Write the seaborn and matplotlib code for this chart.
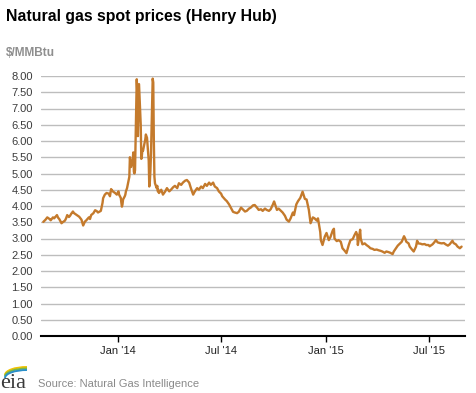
import numpy as np
import pandas as pd
import matplotlib
matplotlib.use("Agg")
import matplotlib.pyplot as plt
from matplotlib.patches import Arc
import seaborn as sns

# --- data: Henry Hub spot price, $/MMBtu ---
dates_2013 = ["2013-08-23", "2013-08-27", "2013-08-30", "2013-09-03", "2013-09-05",
              "2013-09-09", "2013-09-11", "2013-09-16", "2013-09-18", "2013-09-20",
              "2013-09-24", "2013-09-26", "2013-09-30", "2013-10-02", "2013-10-04",
              "2013-10-07", "2013-10-09", "2013-10-11", "2013-10-14", "2013-10-16",
              "2013-10-21", "2013-10-23", "2013-10-25", "2013-10-29", "2013-11-01",
              "2013-11-04", "2013-11-06", "2013-11-11", "2013-11-13", "2013-11-15",
              "2013-11-19", "2013-11-22", "2013-11-25", "2013-11-27", "2013-12-02",
              "2013-12-03", "2013-12-05", "2013-12-06", "2013-12-09", "2013-12-12",
              "2013-12-16", "2013-12-18", "2013-12-20", "2013-12-23", "2013-12-27",
              "2013-12-30"]
prices_2013 = [3.51, 3.58, 3.65, 3.60, 3.56,
               3.65, 3.62, 3.72, 3.64, 3.60,
               3.47, 3.50, 3.55, 3.62, 3.72,
               3.66, 3.70, 3.76, 3.83, 3.78,
               3.72, 3.70, 3.67, 3.58, 3.40,
               3.52, 3.55, 3.65, 3.60, 3.72,
               3.78, 3.87, 3.84, 3.80, 3.85,
               3.93, 4.10, 4.24, 4.35, 4.40,
               4.38, 4.30, 4.52, 4.45, 4.40,
               4.35]

dates_2014 = ["2014-01-02", "2014-01-03", "2014-01-06", "2014-01-07", "2014-01-08",
              "2014-01-09", "2014-01-10", "2014-01-13", "2014-01-14", "2014-01-15",
              "2014-01-16", "2014-01-17", "2014-01-21", "2014-01-22", "2014-01-23",
              "2014-01-24", "2014-01-27", "2014-01-28", "2014-01-29", "2014-01-30",
              "2014-01-31", "2014-02-03", "2014-02-04", "2014-02-05", "2014-02-06",
              "2014-02-07", "2014-02-10", "2014-02-11", "2014-02-12", "2014-02-13",
              "2014-02-14", "2014-02-18", "2014-02-19", "2014-02-20", "2014-02-21",
              "2014-02-24", "2014-02-25", "2014-02-26", "2014-02-27", "2014-02-28",
              "2014-03-03", "2014-03-04", "2014-03-05", "2014-03-06", "2014-03-07",
              "2014-03-10", "2014-03-11", "2014-03-12", "2014-03-13", "2014-03-14",
              "2014-03-18", "2014-03-21", "2014-03-25", "2014-03-28", "2014-04-01",
              "2014-04-04", "2014-04-08", "2014-04-11", "2014-04-15", "2014-04-18",
              "2014-04-22", "2014-04-25", "2014-04-29", "2014-05-02", "2014-05-06",
              "2014-05-09", "2014-05-13", "2014-05-16", "2014-05-20", "2014-05-23",
              "2014-05-27", "2014-05-30", "2014-06-03", "2014-06-06", "2014-06-10",
              "2014-06-13", "2014-06-17", "2014-06-20", "2014-06-24", "2014-06-27",
              "2014-07-01", "2014-07-03", "2014-07-08", "2014-07-11", "2014-07-15",
              "2014-07-18", "2014-07-22", "2014-07-25", "2014-07-29", "2014-08-01",
              "2014-08-05", "2014-08-08", "2014-08-12", "2014-08-15", "2014-08-19",
              "2014-08-22", "2014-08-26", "2014-08-29", "2014-09-02", "2014-09-05",
              "2014-09-09", "2014-09-12", "2014-09-16", "2014-09-19", "2014-09-23",
              "2014-09-26", "2014-09-30", "2014-10-02", "2014-10-07", "2014-10-10",
              "2014-10-14", "2014-10-17", "2014-10-21", "2014-10-24", "2014-10-28",
              "2014-10-31", "2014-11-04", "2014-11-06", "2014-11-10", "2014-11-13",
              "2014-11-17", "2014-11-19", "2014-11-21", "2014-11-25", "2014-11-28",
              "2014-12-02", "2014-12-04", "2014-12-05", "2014-12-09", "2014-12-12",
              "2014-12-16", "2014-12-18", "2014-12-22", "2014-12-23", "2014-12-26",
              "2014-12-30"]
prices_2014 = [4.45, 4.35, 4.25, 4.10, 3.98,
               4.05, 4.20, 4.30, 4.35, 4.45,
               4.50, 4.55, 4.90, 5.50, 5.35,
               5.20, 5.45, 5.65, 5.05, 5.00,
               5.10, 7.90, 7.50, 6.15, 6.90,
               7.75, 6.50, 5.45, 5.55, 5.75,
               5.70, 6.05, 6.20, 6.15, 6.10,
               5.40, 4.60, 4.75, 5.10, 5.60,
               7.92, 7.80, 6.00, 4.90, 4.70,
               4.55, 4.62, 4.45, 4.50, 4.40,
               4.50, 4.35, 4.45, 4.55, 4.45,
               4.50, 4.58, 4.62, 4.55, 4.70,
               4.65, 4.72, 4.78, 4.80, 4.72,
               4.55, 4.35, 4.45, 4.55, 4.50,
               4.60, 4.55, 4.68, 4.62, 4.72,
               4.65, 4.72, 4.60, 4.55, 4.45,
               4.38, 4.30, 4.20, 4.15, 4.05,
               3.95, 3.82, 3.80, 3.78, 3.82,
               3.95, 3.90, 3.83, 3.85, 3.92,
               3.95, 4.02, 4.03, 3.95, 3.88,
               3.90, 3.85, 3.92, 3.88, 3.85,
               3.90, 4.05, 4.14, 3.88, 3.92,
               3.85, 3.80, 3.70, 3.58, 3.52,
               3.62, 3.80, 3.72, 4.05, 4.15,
               4.25, 4.35, 4.44, 4.22, 4.20,
               3.88, 3.60, 3.47, 3.65, 3.62,
               3.55, 3.62, 3.20, 2.95, 2.80,
               3.06]

dates_2015 = ["2015-01-02", "2015-01-06", "2015-01-09", "2015-01-13", "2015-01-15",
              "2015-01-16", "2015-01-20", "2015-01-23", "2015-01-27", "2015-01-30",
              "2015-02-03", "2015-02-06", "2015-02-10", "2015-02-13", "2015-02-17",
              "2015-02-20", "2015-02-23", "2015-02-25", "2015-02-26", "2015-03-02",
              "2015-03-03", "2015-03-06", "2015-03-10", "2015-03-13", "2015-03-17",
              "2015-03-20", "2015-03-24", "2015-03-27", "2015-03-31", "2015-04-03",
              "2015-04-07", "2015-04-10", "2015-04-14", "2015-04-17", "2015-04-21",
              "2015-04-24", "2015-04-28", "2015-04-30", "2015-05-04", "2015-05-07",
              "2015-05-11", "2015-05-14", "2015-05-18", "2015-05-20", "2015-05-22",
              "2015-05-26", "2015-05-28", "2015-06-01", "2015-06-04", "2015-06-08",
              "2015-06-10", "2015-06-12", "2015-06-16", "2015-06-19", "2015-06-23",
              "2015-06-26", "2015-06-30", "2015-07-02", "2015-07-07", "2015-07-10",
              "2015-07-13", "2015-07-16", "2015-07-20", "2015-07-23", "2015-07-27",
              "2015-07-30", "2015-08-03", "2015-08-06", "2015-08-11", "2015-08-13",
              "2015-08-17", "2015-08-20", "2015-08-24", "2015-08-27"]
prices_2015 = [3.17, 2.95, 3.05, 3.25, 3.30,
               3.00, 2.92, 2.95, 2.90, 2.70,
               2.62, 2.55, 2.80, 2.95, 2.98,
               3.10, 3.20, 3.10, 2.80, 3.27,
               3.00, 2.82, 2.85, 2.80, 2.75,
               2.70, 2.68, 2.65, 2.66, 2.64,
               2.62, 2.60, 2.56, 2.60, 2.58,
               2.56, 2.52, 2.60, 2.70, 2.78,
               2.85, 2.90, 3.07, 3.00, 2.90,
               2.85, 2.75, 2.66, 2.60, 2.75,
               2.93, 2.85, 2.84, 2.82, 2.83,
               2.80, 2.80, 2.76, 2.82, 2.88,
               2.95, 2.88, 2.86, 2.85, 2.86,
               2.82, 2.78, 2.82, 2.93, 2.86,
               2.82, 2.75, 2.70, 2.75]

x_ticks = ["2014-01-01", "2014-07-01", "2015-01-01", "2015-07-01"]
x_tick_labels = ["Jan '14", "Jul '14", "Jan '15", "Jul '15"]
y_ticks = np.arange(0, 8.01, 0.5)

df = pd.DataFrame({
    "date": pd.to_datetime(dates_2013 + dates_2014 + dates_2015),
    "price": prices_2013 + prices_2014 + prices_2015,
})

sns.set_style("white")
plt.rcParams["font.family"] = ["Liberation Sans", "DejaVu Sans"]

W, H = 477, 393
fig = plt.figure(figsize=(W / 100, H / 100), dpi=100)
ax = fig.add_axes([41 / W, 57 / H, 424 / W, 260 / H])

sns.lineplot(data=df, x="date", y="price", ax=ax, color="#C47A2C", lw=1.7)

ax.set_xlim(pd.Timestamp("2013-08-19"), pd.Timestamp("2015-09-02"))
ax.set_ylim(0, 8)
ax.set_yticks(y_ticks)
ax.set_yticklabels([f"{v:.2f}" for v in y_ticks])
ax.set_xticks(pd.to_datetime(x_ticks))
ax.set_xticklabels(x_tick_labels)
ax.set_xlabel("")
ax.set_ylabel("")

ax.yaxis.grid(True, color="#bdbdbd", lw=1)
ax.xaxis.grid(False)
ax.set_axisbelow(True)
sns.despine(ax=ax, left=True)
ax.spines["bottom"].set_color("black")
ax.spines["bottom"].set_linewidth(1.5)
ax.tick_params(axis="y", length=0, pad=6, labelsize=8, labelcolor="#3c3c3c")
ax.tick_params(axis="x", length=4, width=1, color="black", pad=3,
               labelsize=8, labelcolor="#222222", bottom=True)

fig.text(6 / W, 1 - 16 / H, "Natural gas spot prices (Henry Hub)",
         fontsize=11.4, fontweight="bold", va="center", color="black")
fig.text(6 / W, 1 - 53 / H, "$/MMBtu", fontsize=8.6, fontweight="bold",
         va="center", color="#8f8f8f")
fig.text(38 / W, 1 - 384 / H, "Source: Natural Gas Intelligence", fontsize=8,
         va="center", color="#8a8a8a")

# small eia logo in the bottom-left corner (pixel units)
lax = fig.add_axes([0, 0, 32 / W, 30 / H])
lax.set_xlim(0, 32)
lax.set_ylim(0, 30)
lax.axis("off")
lax.text(0.5, 0.5, "eia", family="Liberation Serif", fontsize=16,
         color="#3a3a3a", va="bottom", ha="left", clip_on=False)
for dy, c in [(18, "#f2c200"), (16.5, "#7ab648"), (15, "#2a8fc9")]:
    lax.add_patch(Arc((27, dy), 44, 16, theta1=90, theta2=180, color=c, lw=1.4,
                      clip_on=False))

fig.savefig("out.png", dpi=100)
